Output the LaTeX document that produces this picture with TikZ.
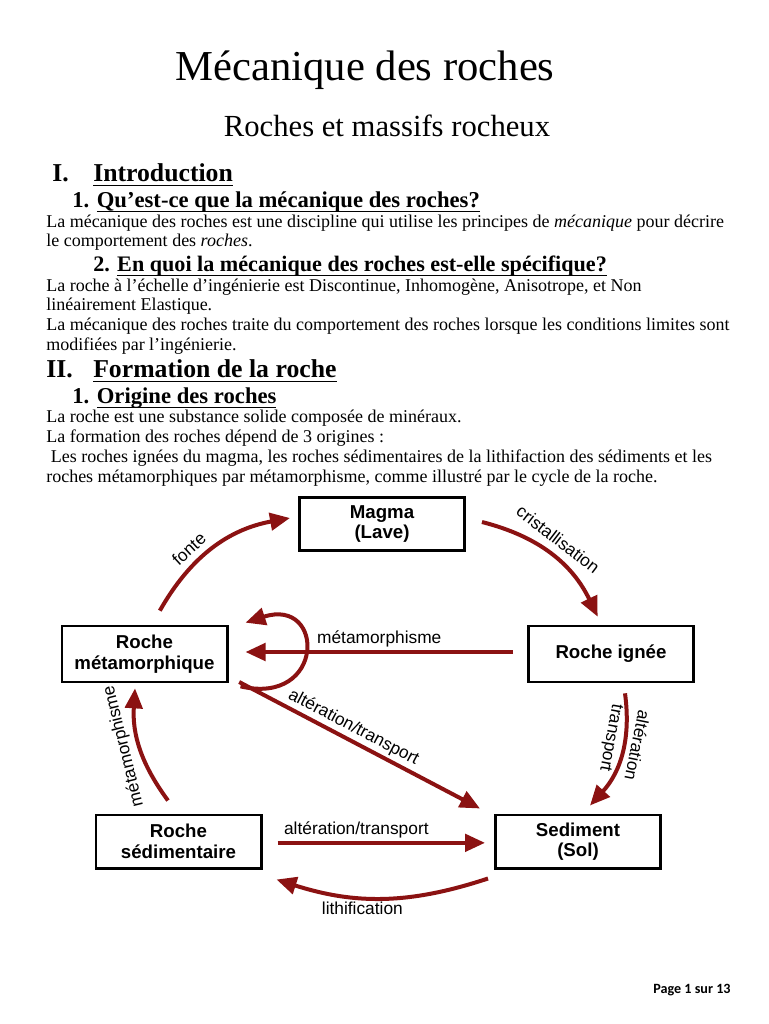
\documentclass[tikz,border=0pt]{standalone}
\usepackage{fontspec}
\setmainfont{Liberation Serif}
\newfontfamily\arialfont{Liberation Sans}
\newfontfamily\calibrifont{Carlito}
\usetikzlibrary{arrows.meta}
\definecolor{rockred}{RGB}{139,18,18}
\newcommand{\headul}[1]{\underline{\raisebox{0pt}[\height][1.5pt]{#1}}}
\tikzstyle{rockbox} = [
    rectangle,
    minimum width=124pt,
    minimum height=40pt,
    align=center,
    inner sep=0pt,
    line width=2pt,
    draw=black,
    font=\arialfont\bfseries\fontsize{14}{15.5}\selectfont
]
\tikzstyle{cyclearrow} = [draw=rockred, line width=3pt, -{Triangle[length=15pt,width=13pt]}]
\tikzstyle{cyclelabel} = [font=\arialfont\fontsize{13}{14}\selectfont, text=black, inner sep=2pt]
\tikzstyle{bodyline} = [anchor=base west, inner sep=0pt, font=\fontsize{13.5}{15}\selectfont]
\tikzstyle{sectionline} = [anchor=base west, inner sep=0pt, font=\bfseries\fontsize{19.3}{21}\selectfont]
\tikzstyle{subsectionline} = [anchor=base west, inner sep=0pt, font=\bfseries\fontsize{17}{19}\selectfont]

\begin{document}
\begin{tikzpicture}[x=0.75pt, y=-0.75pt]
\useasboundingbox (0,0) rectangle (768,1024);

\node (title) [anchor=base, inner sep=0pt, font=\fontsize{32}{36}\selectfont] at (365,80) {Mécanique des roches};
\node (subtitle) [anchor=base, inner sep=0pt, font=\fontsize{23}{26}\selectfont] at (387,136) {Roches et massifs rocheux};

\node (secI) [sectionline] at (52,181) {I.};
\node (secItxt) [sectionline] at (93,181) {\headul{Introduction}};
\node (subIa) [subsectionline] at (72,207) {1. \headul{Qu’est-ce que la mécanique des roches?}};
\node (lineA) [bodyline] at (46,227) {La mécanique des roches est une discipline qui utilise les principes de \textit{mécanique} pour décrire};
\node (lineB) [bodyline] at (46,246) {le comportement des \textit{roches}.};
\node (subIb) [subsectionline, font=\bfseries\fontsize{16.6}{19}\selectfont] at (93,271) {2. \headul{En quoi la mécanique des roches est-elle spécifique?}};
\node (lineC) [bodyline] at (46,291) {La roche à l’échelle d’ingénierie est Discontinue, Inhomogène, Anisotrope, et Non};
\node (lineD) [bodyline] at (46,310) {linéairement Elastique.};
\node (lineE) [bodyline] at (46,330) {La mécanique des roches traite du comportement des roches lorsque les conditions limites sont};
\node (lineF) [bodyline] at (46,350) {modifiées par l’ingénierie.};

\node (secII) [sectionline] at (46,377) {II.};
\node (secIItxt) [sectionline] at (93,377) {\headul{Formation de la roche}};
\node (subIIa) [subsectionline] at (72,403) {1. \headul{Origine des roches}};
\node (lineG) [bodyline] at (46,422) {La roche est une substance solide composée de minéraux.};
\node (lineH) [bodyline] at (46,442) {La formation des roches dépend de 3 origines :};
\node (lineI) [bodyline] at (46,462) {\ Les roches ignées du magma, les roches sédimentaires de la lithifaction des sédiments et les};
\node (lineJ) [bodyline] at (46,482) {roches métamorphiques par métamorphisme, comme illustré par le cycle de la roche.};

\node (magma) [rockbox] at (382,524) {Magma\\(Lave)};

\node (ignee) [rockbox, minimum height=42pt] at (611,654) {Roche ignée};

\node (meta) [rockbox, minimum height=42pt] at (144.5,654) {Roche\\métamorphique};

\node (sol) [rockbox] at (578,841.5) {Sediment\\(Sol)};

\node (sedi) [rockbox] at (178.5,841.5) {Roche\\sédimentaire};

\draw [cyclearrow] ([xshift=11.5pt,yshift=10.5pt]meta.north) to[bend left=25]
    node [cyclelabel, sloped, above=3pt, pos=0.38] {fonte} ([xshift=-6pt,yshift=4.5pt]magma.west);
\draw [cyclearrow] ([xshift=12pt,yshift=1.5pt]magma.east) to[bend left=25]
    node [cyclelabel, sloped, above=4pt, pos=0.47] {cristallisation} ([xshift=-10pt,yshift=6pt]ignee.north);
\draw [cyclearrow] ([xshift=-10.5pt,yshift=1.5pt]ignee.west) --
    node [cyclelabel, above] {métamorphisme} ([xshift=12.75pt,yshift=1.5pt]meta.east);
\draw [cyclearrow] ([xshift=9pt,yshift=-2.25pt]meta.south east) .. controls +(85,20) and +(80,-26) ..
    ([xshift=12.75pt,yshift=1.5pt]meta.north east);
\draw [cyclearrow] ([xshift=8pt,yshift=1pt]meta.south east) --
    node [cyclelabel, sloped, above, pos=0.45] {altération/transport} ([xshift=-10.5pt,yshift=3.75pt]sol.north west);
\draw [cyclearrow] ([xshift=11.25pt,yshift=-1pt]sedi.east) --
    node [cyclelabel, above, pos=0.38] {altération/transport} ([xshift=-6.75pt,yshift=-1pt]sol.west);
\draw [cyclearrow] ([xshift=-4.5pt,yshift=-6.75pt]sol.south west) to[bend left=18]
    node [cyclelabel, below, pos=0.6] {lithification} ([xshift=10.5pt,yshift=-7.5pt]sedi.south east);
\draw [cyclearrow] ([xshift=-7.9pt,yshift=9.75pt]sedi.north) to[bend left=20]
    node [cyclelabel, sloped, allow upside down, above=2pt, pos=0.55] {métamorphisme} ([xshift=-7.1pt,yshift=-3.75pt]meta.south);
\draw [cyclearrow] ([xshift=10.5pt,yshift=-7.5pt]ignee.south) to[bend left=25]
    node [cyclelabel, sloped, allow upside down, above=2pt, pos=0.4] {altération}
    node [cyclelabel, sloped, allow upside down, below=2pt, pos=0.38] {transport} ([xshift=9pt,yshift=6pt]sol.north);

\node (footer) [anchor=base, inner sep=0pt, font=\calibrifont\bfseries\fontsize{10.6}{12}\selectfont] at (692,993) {Page 1 sur 13};

\end{tikzpicture}
\end{document}
